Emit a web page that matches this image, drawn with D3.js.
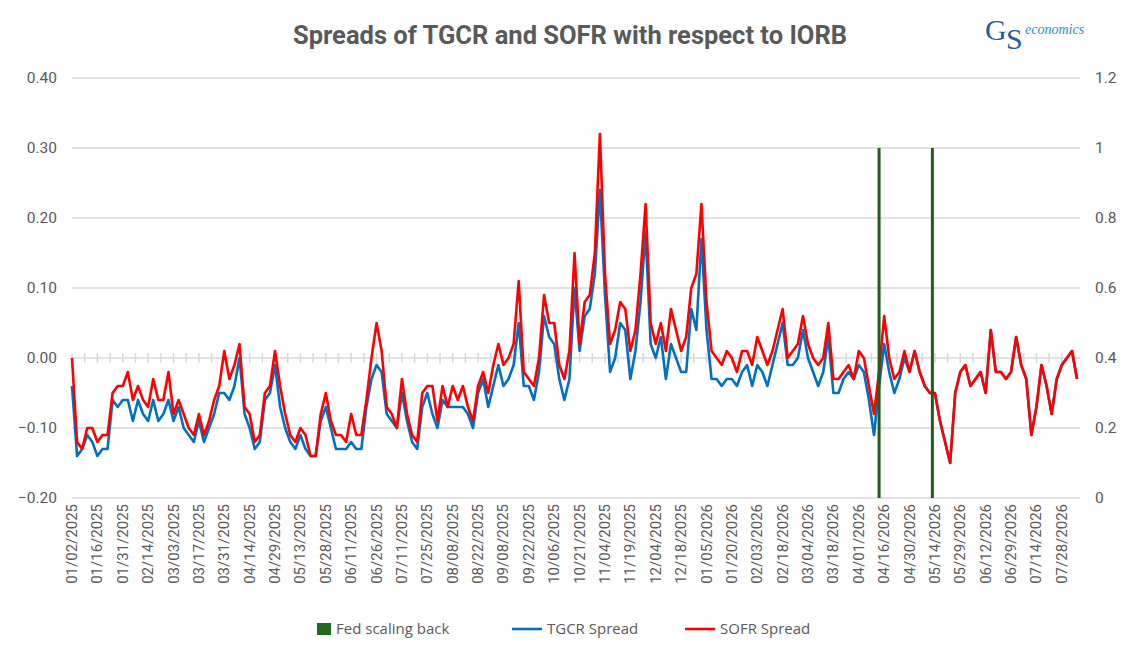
<!DOCTYPE html>
<html><head><meta charset="utf-8">
<script src="https://cdn.jsdelivr.net/npm/d3@7"></script>
<style>body{margin:0;background:#fff;font-family:Roboto,"Liberation Sans",sans-serif;}</style>
</head><body><svg width="1139" height="660"></svg>
<script>
const tickLabels = ["01/02/2025","01/16/2025","01/31/2025","02/14/2025","03/03/2025","03/17/2025","03/31/2025","04/14/2025","04/29/2025","05/13/2025","05/28/2025","06/11/2025","06/26/2025","07/11/2025","07/25/2025","08/08/2025","08/22/2025","09/08/2025","09/22/2025","10/06/2025","10/21/2025","11/04/2025","11/19/2025","12/04/2025","12/18/2025","01/05/2026","01/20/2026","02/03/2026","02/18/2026","03/04/2026","03/18/2026","04/01/2026","04/16/2026","04/30/2026","05/14/2026","05/29/2026","06/12/2026","06/29/2026","07/14/2026","07/28/2026"];

// one value every two business days
const sofr = [
  0.00,-0.12,-0.13,-0.10,-0.10, -0.12,-0.11,-0.11,-0.05,-0.04, -0.04,-0.02,-0.06,-0.04,-0.06,
  -0.07,-0.03,-0.06,-0.06,-0.02, -0.08,-0.06,-0.08,-0.10,-0.11, -0.08,-0.11,-0.09,-0.06,-0.04,
  0.01,-0.03,-0.01,0.02,-0.07, -0.08,-0.12,-0.11,-0.05,-0.04, 0.01,-0.04,-0.08,-0.11,-0.12,
  -0.10,-0.11,-0.14,-0.14,-0.08, -0.05,-0.09,-0.11,-0.11,-0.12, -0.08,-0.11,-0.11,-0.06,0.00,
  0.05,0.01,-0.07,-0.08,-0.10, -0.03,-0.08,-0.11,-0.12,-0.05, -0.04,-0.04,-0.09,-0.04,-0.07,
  -0.04,-0.06,-0.04,-0.07,-0.09, -0.04,-0.02,-0.05,-0.01,0.02, -0.01,0.00,0.02,0.11,-0.02,
  -0.03,-0.04,0.00,0.09,0.05, 0.05,-0.01,-0.03,0.01,0.15, 0.02,0.08,0.09,0.15,0.32,
  0.12,0.02,0.04,0.08,0.07, 0.01,0.04,0.12,0.22,0.05, 0.02,0.05,0.01,0.07,0.04,
  0.01,0.03,0.10,0.12,0.22, 0.08,0.01,0.00,-0.01,0.01, 0.00,-0.02,0.01,0.01,-0.01,
  0.03,0.01,-0.01,0.01,0.04, 0.07,0.00,0.01,0.02,0.06, 0.02,0.00,-0.01,0.00,0.05,
  -0.03,-0.03,-0.02,-0.01,-0.03, 0.01,0.00,-0.04,-0.08,-0.02, 0.06,0.00,-0.03,-0.02,0.01,
  -0.02,0.01,-0.02,-0.04,-0.05, -0.05,-0.09,-0.12,-0.15,-0.05, -0.02,-0.01,-0.04,-0.03,-0.02,
  -0.05,0.04,-0.02,-0.02,-0.03, -0.02,0.03,-0.01,-0.03,-0.11, -0.07,-0.01,-0.04,-0.08,-0.03,
  -0.01,0.00,0.01,-0.03
];
const tgcr = [
  -0.04,-0.14,-0.13,-0.11,-0.12, -0.14,-0.13,-0.13,-0.06,-0.07, -0.06,-0.06,-0.09,-0.06,-0.08,
  -0.09,-0.06,-0.09,-0.08,-0.06, -0.09,-0.07,-0.10,-0.11,-0.12, -0.09,-0.12,-0.10,-0.08,-0.05,
  -0.05,-0.06,-0.04,0.00,-0.08, -0.10,-0.13,-0.12,-0.06,-0.05, -0.01,-0.07,-0.10,-0.12,-0.13,
  -0.11,-0.13,-0.14,-0.14,-0.09, -0.07,-0.10,-0.13,-0.13,-0.13, -0.12,-0.13,-0.13,-0.07,-0.03,
  -0.01,-0.02,-0.08,-0.09,-0.10, -0.05,-0.09,-0.12,-0.13,-0.07, -0.05,-0.08,-0.10,-0.06,-0.07,
  -0.07,-0.07,-0.07,-0.08,-0.10, -0.05,-0.03,-0.07,-0.04,-0.01, -0.04,-0.03,-0.01,0.05,-0.04,
  -0.04,-0.06,-0.02,0.06,0.03, 0.02,-0.03,-0.06,-0.03,0.10, 0.01,0.06,0.07,0.12,0.24,
  0.09,-0.02,0.00,0.05,0.04, -0.03,0.01,0.08,0.18,0.02, 0.00,0.03,-0.03,0.02,0.00,
  -0.02,-0.02,0.07,0.04,0.17, 0.04,-0.03,-0.03,-0.04,-0.03, -0.03,-0.04,-0.02,-0.01,-0.04,
  -0.01,-0.02,-0.04,-0.01,0.02, 0.05,-0.01,-0.01,0.00,0.04, 0.00,-0.02,-0.04,-0.02,0.03,
  -0.05,-0.05,-0.03,-0.02,-0.03, -0.01,-0.02,-0.06,-0.11,-0.04, 0.02,-0.02,-0.05,-0.03,0.00,
  -0.02,0.01,-0.02,-0.04,-0.05, -0.05,-0.09,-0.12,-0.15,-0.05, -0.02,-0.01,-0.04,-0.03,-0.02,
  -0.05,0.04,-0.02,-0.02,-0.03, -0.02,0.03,-0.01,-0.03,-0.11, -0.07,-0.01,-0.04,-0.08,-0.03,
  -0.01,0.00,0.01,-0.03
];
const fedIdx = [159, 169.5];   // "Fed scaling back" marker positions (point index)
const fedHeight = 1;           // on right axis

const svg = d3.select("svg");
const L = 72, R = 1080, T = 78, B = 498;
const x = d3.scaleLinear().domain([0, 195]).range([L, L + 5.076 * 195]);
const y = d3.scaleLinear().domain([-0.2, 0.4]).range([B, T]);
const y2 = d3.scaleLinear().domain([0, 1.2]).range([B, T]);
const grey = "#595959";

svg.append("text").attr("x", 570).attr("y", 44).attr("text-anchor", "middle")
  .attr("font-size", 25.5).attr("font-weight", "bold").attr("fill", grey)
  .text("Spreads of TGCR and SOFR with respect to IORB");

// logo
const logo = svg.append("g").attr("transform", "translate(985,40)");
logo.append("text").attr("font-size", 30).attr("fill", "#1f5f9e").attr("font-family", "Liberation Serif")
  .text("G");
logo.append("text").attr("x", 21).attr("y", 9).attr("font-size", 30).attr("fill", "#1f5f9e")
  .attr("font-family", "Liberation Serif").text("S");
logo.append("text").attr("x", 40).attr("y", -6).attr("font-size", 14).attr("font-style", "italic")
  .attr("fill", "#1f8fc0").attr("font-family", "Liberation Serif").text("economics");

// grid
const gTicks = d3.range(-0.2, 0.41, 0.1);
svg.append("g").selectAll("line").data(gTicks).join("line")
  .attr("x1", L).attr("x2", R).attr("y1", d => y(d)).attr("y2", d => y(d))
  .attr("stroke", "#d9d9d9").attr("stroke-width", 1.5);
// zero-line minor ticks
svg.append("g").selectAll("line").data(d3.range(0, 199, 2.5)).join("line")
  .attr("x1", d => x(d)).attr("x2", d => x(d)).attr("y1", y(0) - 5).attr("y2", y(0) + 5)
  .attr("stroke", "#d9d9d9").attr("stroke-width", 1.5);

const axL = svg.append("g").attr("transform", `translate(${L - 12},0)`)
  .call(d3.axisLeft(y).tickValues(gTicks).tickFormat(d3.format(".2f")).tickSize(0));
axL.select(".domain").remove();
axL.selectAll("text").attr("font-size", 15.5).attr("fill", grey).attr("font-family", "Roboto");

const axR = svg.append("g").attr("transform", `translate(${R + 12},0)`)
  .call(d3.axisRight(y2).tickValues(d3.range(0, 1.21, 0.2)).tickFormat(d => d === 0 || Math.abs(d - 1) < 1e-9 ? d3.format("d")(Math.round(d)) : d3.format(".1f")(d)).tickSize(0));
axR.select(".domain").remove();
axR.selectAll("text").attr("font-size", 15.5).attr("fill", grey).attr("font-family", "Roboto");

// x labels
svg.append("g").selectAll("text").data(tickLabels).join("text")
  .attr("transform", (d, i) => `translate(${x(i * 5) + 5},${B + 6}) rotate(-90)`)
  .attr("text-anchor", "end").attr("font-size", 15).attr("fill", grey)
  .text(d => d);

const line = d3.line().x((d, i) => x(i)).y(d => y(d));
svg.append("path").datum(tgcr).attr("d", line).attr("fill", "none")
  .attr("stroke", "#0070c0").attr("stroke-width", 2.6).attr("stroke-linejoin", "round");
svg.append("path").datum(sofr).attr("d", line).attr("fill", "none")
  .attr("stroke", "#ff0000").attr("stroke-width", 2.6).attr("stroke-linejoin", "round");

svg.append("g").selectAll("line").data(fedIdx).join("line")
  .attr("x1", d => x(d)).attr("x2", d => x(d)).attr("y1", y2(0)).attr("y2", y2(fedHeight))
  .attr("stroke", "#245a1a").attr("stroke-width", 3);

// legend
const leg = [["Fed scaling back", "#1e6b1e", "rect"], ["TGCR Spread", "#0070c0", "line"], ["SOFR Spread", "#ff0000", "line"]];
const lx = [317, 512, 685];
leg.forEach((d, i) => {
  const g = svg.append("g").attr("transform", `translate(${lx[i]},629)`);
  if (d[2] === "rect") g.append("rect").attr("x", 0).attr("y", -6).attr("width", 14).attr("height", 12).attr("fill", d[1]);
  else g.append("line").attr("x1", 0).attr("x2", 30).attr("stroke", d[1]).attr("stroke-width", 2.6);
  g.append("text").attr("x", d[2] === "rect" ? 19 : 35).attr("y", 5).attr("font-size", 15)
    .attr("font-family", "Open Sans").attr("fill", grey).text(d[0]);
});
</script></body></html>
